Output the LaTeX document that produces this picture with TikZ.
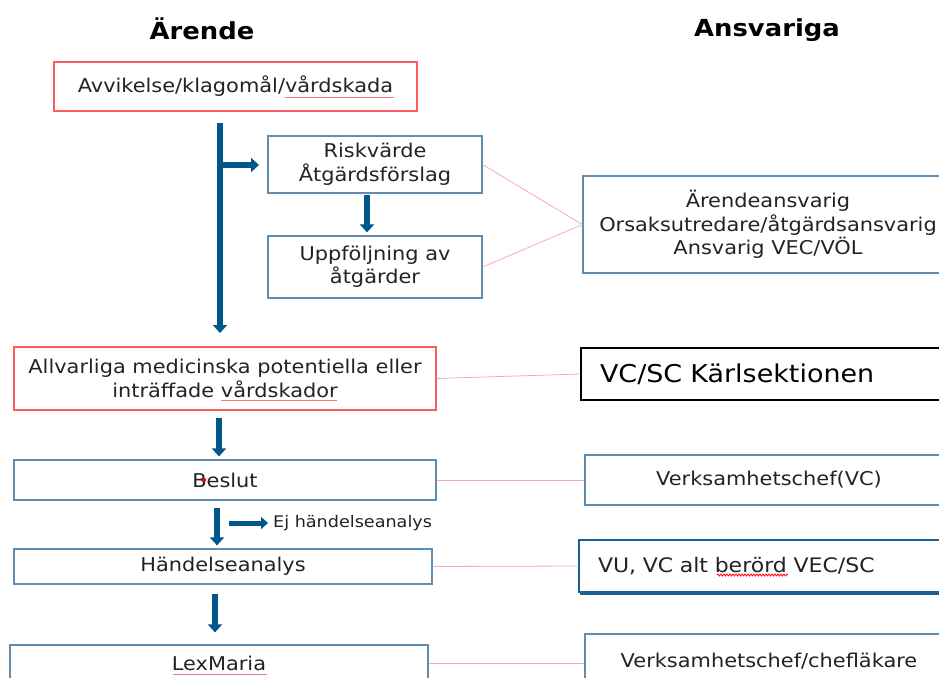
\documentclass[tikz,border=0pt]{standalone}
\usepackage{fontspec}
\setmainfont[FakeStretch=1.1]{DejaVu Sans}
\usetikzlibrary{arrows.meta,calc,decorations.pathmorphing}
\definecolor{arrowblue}{RGB}{0,88,138}
\definecolor{boxblue}{RGB}{95,140,175}
\definecolor{darkbox}{RGB}{30,95,145}
\definecolor{boxred}{RGB}{250,95,95}
\definecolor{linkpink}{RGB}{245,170,195}
\definecolor{squig}{RGB}{240,120,130}
\definecolor{txt}{RGB}{35,35,35}
\tikzset{
  bluebox/.style={draw=boxblue,line width=1.2pt,rectangle,inner sep=0pt,align=center,text=txt,font=\fontsize{19}{23.5}\selectfont},
  redbox/.style={bluebox,draw=boxred},
  flow/.style={draw=arrowblue,line width=6.5pt,-{Triangle[width=14pt,length=8pt]}},
  link/.style={draw=linkpink,line width=0.8pt},
  spell/.style={draw=squig,line width=0.8pt},
  head/.style={font=\bfseries\fontsize{23.5}{28}\selectfont,text=black}
}
\begin{document}
\begin{tikzpicture}[x=1pt,y=-1pt]
\clip (0,0) rectangle (939,677);
\fill[white] (0,0) rectangle (939,677);
\node[head] (h1) at (202,29) {Ärende};
\node[head] (h2) at (767,30) {Ansvariga};

\node[redbox,minimum width=363pt,minimum height=49pt] (avv) at (235.5,86.5) {Avvikelse/klagomål/vårdskada};
\node[bluebox,minimum width=214pt,minimum height=57pt] (risk) at (375,164.5) {Riskvärde\\Åtgärdsförslag};
\node[bluebox,minimum width=214pt,minimum height=62pt] (uppf) at (375,267) {Uppföljning av\\åtgärder};
\node[bluebox,minimum width=370pt,minimum height=97pt] (ansv) at (768,224.5) {Ärendeansvarig\\Orsaksutredare/åtgärdsansvarig\\Ansvarig VEC/VÖL};

\node[redbox,minimum width=422pt,minimum height=63pt] (allv) at (225,378.5) {Allvarliga medicinska potentiella eller\\inträffade vårdskador};
\node[bluebox,draw=black,minimum width=372pt,minimum height=52pt,text width=334pt,align=left,font=\fontsize{24.5}{28}\selectfont,text=black] (vcsc) at (767,374) {VC/SC Kärlsektionen};

\node[bluebox,minimum width=422pt,minimum height=40pt] (beslut) at (225,480) {Beslut};
\fill[red] (204,480) circle (2.2pt);
\node[bluebox,minimum width=368pt,minimum height=50pt] (vc) at (769,480) {Verksamhetschef(VC)};

\node[bluebox,minimum width=418pt,minimum height=35pt] (hand) at (223,566.5) {Händelseanalys};
\draw[draw=darkbox,line width=2pt] ($(579,541)+(1.5,1.5)$) rectangle (960,593.5);
\node[bluebox,draw=darkbox,fill=white,minimum width=374pt,minimum height=52pt,text width=336pt,align=left,font=\fontsize{20}{24}\selectfont] (vu) at (766,566) {VU, VC alt berörd VEC/SC};

\node[bluebox,minimum width=418pt,minimum height=36pt] (lex) at (219,663) {LexMaria};
\node[bluebox,minimum width=368pt,minimum height=54pt] (chef) at (769,661) {Verksamhetschef/chefläkare};

% spelling marks
\draw[spell] (285,97) -- (394,97);
\draw[spell] (221,400) -- (337,400);
\draw[spell] (173,674) -- (267,674);
\draw[draw=red,line width=0.8pt,decorate,decoration={snake,amplitude=1pt,segment length=3pt}] (717,575) -- (788,575);

% main flow arrows
\coordinate (m1) at (220,123);
\coordinate (m2) at (220,333);
\draw[flow] (m1) -- (m2);
\coordinate (b1) at (220,165);
\coordinate (b2) at (259,165);
\draw[flow] (b1) -- (b2);
\draw[flow] ($(risk.south)+(-8,1)$) -- ($(uppf.north)+(-8,-3)$);
\draw[flow] ($(allv.south)+(-6,7)$) -- ($(beslut.north)+(-6,-3)$);
\draw[flow] ($(beslut.south)+(-8,7)$) -- ($(hand.north)+(-6,-3)$);
\coordinate (e1) at (229,523);
\coordinate (e2) at (268,523);
\draw[draw=arrowblue,line width=5pt,-{Triangle[width=12pt,length=7pt]}] (e1) -- (e2);
\node[anchor=west,text=txt,font=\fontsize{16}{19}\selectfont,inner sep=0pt] (ej) at (273,523) {Ej händelseanalys};
\draw[flow] ($(hand.south)+(-8,9)$) -- ($(lex.north)+(-4,-12)$);

% pink links
\draw[link] (risk.east) -- (ansv.west);
\draw[link] (uppf.east) -- (ansv.west);
\draw[link] (allv.east) -- (vcsc.west);
\draw[link] (beslut.east) -- (vc.west);
\draw[link] (hand.east) -- (vu.west);
\draw[link] (lex.east) -- (lex.east -| chef.west);
\end{tikzpicture}
\end{document}
